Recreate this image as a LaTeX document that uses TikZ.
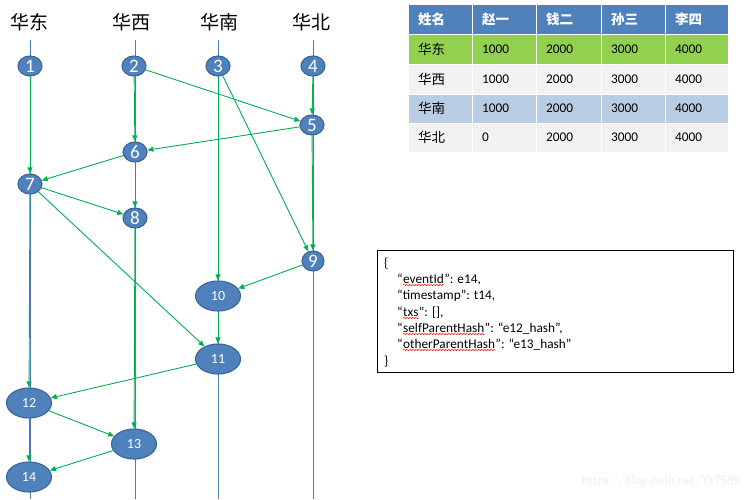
\documentclass[tikz,border=0pt]{standalone}
\usepackage{fontspec}
\setmainfont{Carlito}
\newfontfamily\cjk{Noto Sans CJK SC}
\usetikzlibrary{shapes.geometric,arrows.meta,decorations.pathmorphing}
\definecolor{nodeblue}{HTML}{4F81BD}
\definecolor{nodeborder}{HTML}{3A6594}
\definecolor{lanecol}{HTML}{4A7EBB}
\definecolor{edgegreen}{HTML}{00B050}
\definecolor{hdrblue}{HTML}{4F81BD}
\definecolor{rowgreen}{HTML}{92D050}
\definecolor{rowgray}{HTML}{F2F2F2}
\definecolor{rowblue}{HTML}{B8CCE4}
\definecolor{wmark}{HTML}{EDEDED}
\tikzset{
  ev/.style={ellipse, fill=nodeblue, draw=nodeborder, line width=1.1pt, inner sep=0pt,
    text=white, font=\fontsize{19}{19}\selectfont, minimum width=24pt, minimum height=20pt},
  bigev/.style={ev, minimum width=45pt, minimum height=30pt, font=\fontsize{14}{14}\selectfont},
  lane/.style={draw=lanecol, line width=0.8pt},
  edge/.style={draw=edgegreen, line width=0.9pt, -{Triangle[length=6pt,width=5pt]}},
  lanehead/.style={font=\cjk\fontsize{19}{19}\selectfont, inner sep=0pt},
  celltxt/.style={anchor=west, inner sep=0pt, font=\fontsize{13.3}{14}\selectfont},
  cellcjk/.style={anchor=west, inner sep=0pt, font=\cjk\fontsize{13.5}{14}\selectfont},
  jt/.style={anchor=base west, inner sep=0pt, font=\fontsize{13.3}{14}\selectfont},
  squig/.style={draw=red, line width=0.5pt, decorate, decoration={snake, amplitude=0.7pt, segment length=3pt}},
}
\begin{document}
\begin{tikzpicture}[x=1pt,y=-1pt]
\useasboundingbox (0,0) rectangle (751,499);
\fill[white] (0,0) rectangle (751,499);

% lane headers
\node[lanehead] (h1) at (29,22) {华东};
\node[lanehead] (h2) at (131,22) {华西};
\node[lanehead] (h3) at (219,22) {华南};
\node[lanehead] (h4) at (311,22) {华北};

% lane lines
\coordinate (t1) at (30,40); \coordinate (b1) at (30,499);
\coordinate (t2) at (135,40); \coordinate (b2) at (135,499);
\coordinate (t3) at (218,40); \coordinate (b3) at (218,499);
\coordinate (t4) at (313,40); \coordinate (b4) at (313,499);
\draw[lane] (t1) -- (b1);
\draw[lane] (t2) -- (b2);
\draw[lane] (t3) -- (b3);
\draw[lane] (t4) -- (b4);

% events
\node[ev] (n1) at (30,66) {1};
\node[ev] (n2) at (134,66) {2};
\node[ev] (n3) at (218,66) {3};
\node[ev] (n4) at (313,66) {4};
\node[ev] (n5) at (312,125) {5};
\node[ev] (n6) at (135,152) {6};
\node[ev] (n7) at (30,184) {7};
\node[ev] (n8) at (135,218) {8};
\node[ev, minimum width=22pt, minimum height=20pt] (n9) at (313,261) {9};
\node[bigev] (n10) at (218,296) {10};
\node[bigev] (n11) at (218,359) {11};
\node[bigev] (n12) at (29,403) {12};
\node[bigev] (n13) at (134,444) {13};
\node[bigev] (n14) at (29,477) {14};

% edges
\draw[edge] (n1) -- (n7);
\draw[edge] (n2) -- (n6);
\draw[edge] (n2) -- (n5);
\draw[edge] (n4) -- (n5);
\draw[edge] (n5) -- (n6);
\draw[edge] (n5) -- (n9);
\draw[edge] (n6) -- (n7);
\draw[edge] (n6) -- (n8);
\draw[edge] (n7) -- (n8);
\draw[edge] (n7) -- (n12);
\draw[edge] (n7) -- (n11);
\draw[edge] (n3) -- (n9);
\draw[edge] (n3) -- (n10);
\draw[edge] (n9) -- (n10);
\draw[edge] (n10) -- (n11);
\draw[edge] (n8) -- (n13);
\draw[edge] (n11) -- (n12);
\draw[edge] (n12) -- (n13);
\draw[edge] (n12) -- (n14);
\draw[edge] (n13) -- (n14);

% table
\def\colx{{409,473,537,602,666,729}}
\def\rowy{{5,35,65,95,124,153}}
\foreach \r/\col in {0/hdrblue,1/rowgreen,2/rowgray,3/rowblue,4/rowgray}{
  \foreach \c in {0,...,4}{
    \pgfmathsetmacro\xa{\colx[\c]}
    \pgfmathsetmacro\xb{\colx[\c+1]-1.5}
    \pgfmathsetmacro\ya{\rowy[\r]}
    \pgfmathsetmacro\yb{\rowy[\r+1]-1.5}
    \fill[\col] (\xa,\ya) rectangle (\xb,\yb);
  }
}
% header row
\node[cellcjk, text=white, font=\cjk\bfseries\fontsize{13.5}{14}\selectfont] (th0) at (418,19) {姓名};
\node[cellcjk, text=white, font=\cjk\bfseries\fontsize{13.5}{14}\selectfont] (th1) at (482,19) {赵一};
\node[cellcjk, text=white, font=\cjk\bfseries\fontsize{13.5}{14}\selectfont] (th2) at (546,19) {钱二};
\node[cellcjk, text=white, font=\cjk\bfseries\fontsize{13.5}{14}\selectfont] (th3) at (611,19) {孙三};
\node[cellcjk, text=white, font=\cjk\bfseries\fontsize{13.5}{14}\selectfont] (th4) at (675,19) {李四};
% rows
\node[cellcjk] (r1c0) at (418,49) {华东};
\node[celltxt] (r1c1) at (482,49) {1000};
\node[celltxt] (r1c2) at (546,49) {2000};
\node[celltxt] (r1c3) at (611,49) {3000};
\node[celltxt] (r1c4) at (675,49) {4000};
\node[cellcjk] (r2c0) at (418,79) {华西};
\node[celltxt] (r2c1) at (482,79) {1000};
\node[celltxt] (r2c2) at (546,79) {2000};
\node[celltxt] (r2c3) at (611,79) {3000};
\node[celltxt] (r2c4) at (675,79) {4000};
\node[cellcjk] (r3c0) at (418,108) {华南};
\node[celltxt] (r3c1) at (482,108) {1000};
\node[celltxt] (r3c2) at (546,108) {2000};
\node[celltxt] (r3c3) at (611,108) {3000};
\node[celltxt] (r3c4) at (675,108) {4000};
\node[cellcjk] (r4c0) at (418,137) {华北};
\node[celltxt] (r4c1) at (482,137) {0};
\node[celltxt] (r4c2) at (546,137) {2000};
\node[celltxt] (r4c3) at (611,137) {3000};
\node[celltxt] (r4c4) at (675,137) {4000};

% json box
\draw[black, line width=0.9pt] (377,250) rectangle (733,372);
\node[jt] (j0) at (384,267) {\{};
\node[jt] (j1a) at (397,283) {“};
\node[jt] (j1b) at (j1a.base east) {eventId};
\node[jt] (j1c) at (j1b.base east) {”: e14,};
\node[jt] (j2) at (397,299) {“timestamp”: t14,};
\node[jt] (j3a) at (397,316) {“};
\node[jt] (j3b) at (j3a.base east) {txs};
\node[jt] (j3c) at (j3b.base east) {”: [],};
\node[jt] (j4a) at (397,332) {“};
\node[jt] (j4b) at (j4a.base east) {selfParentHash};
\node[jt] (j4c) at (j4b.base east) {”: “e12\_hash”,};
\node[jt] (j5a) at (397,348) {“};
\node[jt] (j5b) at (j5a.base east) {otherParentHash};
\node[jt] (j5c) at (j5b.base east) {”: “e13\_hash”};
\node[jt] (j6) at (384,365) {\}};
\draw[squig] ([yshift=-2pt]j1b.base west) -- ([yshift=-2pt]j1b.base east);
\draw[squig] ([yshift=-2pt]j3b.base west) -- ([yshift=-2pt]j3b.base east);
\draw[squig] ([yshift=-2pt]j4b.base west) -- ([yshift=-2pt]j4b.base east);
\draw[squig] ([yshift=-2pt]j5b.base west) -- ([yshift=-2pt]j5b.base east);

% watermark
\node[anchor=east, inner sep=0pt, text=wmark, font=\fontsize{13}{13}\selectfont\sffamily] (wm) at (740,481) {https://blog.csdn.net/Yt7589};
\end{tikzpicture}
\end{document}
